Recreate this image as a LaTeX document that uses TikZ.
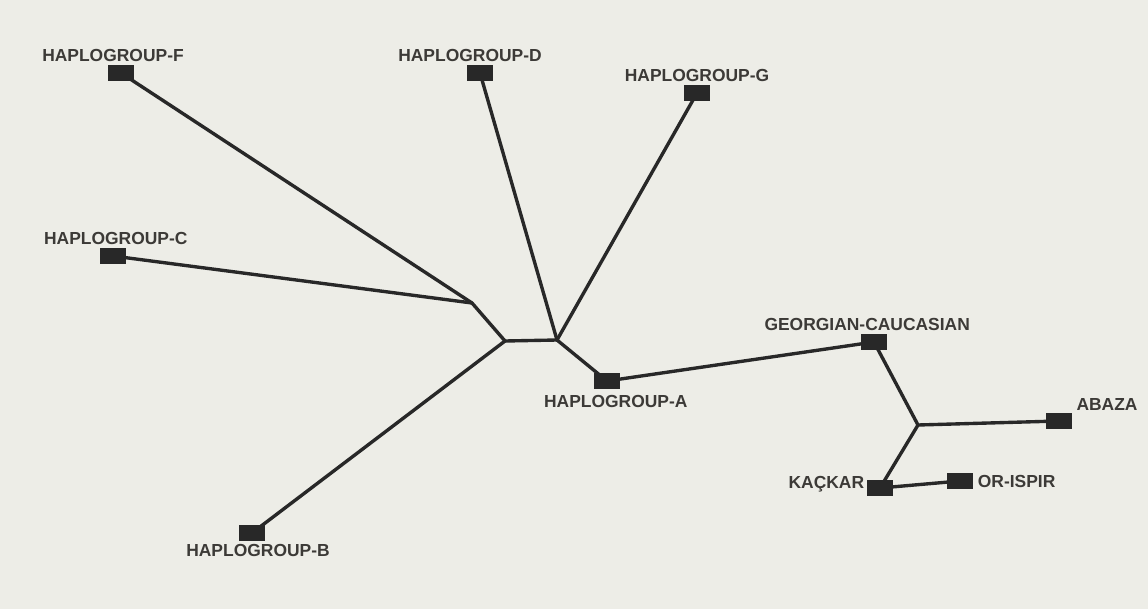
\documentclass[tikz,border=0pt]{standalone}
\usepackage{fontspec}
\setmainfont{Liberation Sans}
\usetikzlibrary{positioning}

\definecolor{screen}{RGB}{237,237,231}
\definecolor{ink}{RGB}{40,40,40}
\definecolor{labelink}{RGB}{60,58,55}

\begin{document}
\begin{tikzpicture}[
    x=0.025cm, y=-0.025cm,
    leaf/.style={rectangle, fill=ink, inner sep=0pt, minimum width=0.625cm, minimum height=0.4cm,
      label distance=4.5pt},
    every label/.style={font=\bfseries\fontsize{12.4}{14}\selectfont, text=labelink, inner sep=2pt},
    br/.style={draw=ink, line width=2.4pt, line cap=round, line join=round}
  ]
    % background
    \fill[screen] (0,0) rectangle (1148,609);

    % inner branch points
    \coordinate (j1) at (472,303);
    \coordinate (j2) at (505,341);
    \coordinate (j3) at (557,340);
    \coordinate (j4) at (918,425);

    % leaves
    \node[leaf, label={[xshift=-0.2cm]above:HAPLOGROUP-F}] (F) at (121,73) {};
    \node[leaf, label={[xshift=0.07cm]above:HAPLOGROUP-C}] (C) at (113,256) {};
    \node[leaf, label={[xshift=-0.25cm]above:HAPLOGROUP-D}] (D) at (480,73) {};
    \node[leaf, label={above:HAPLOGROUP-G}] (G) at (697,93) {};
    \node[leaf, label={[xshift=0.22cm, yshift=-0.07cm]below:HAPLOGROUP-A}] (A) at (607,381) {};
    \node[leaf, label={[xshift=0.15cm]below:HAPLOGROUP-B}] (B) at (252,533) {};
    \node[leaf, label={[xshift=-0.17cm]above:GEORGIAN-CAUCASIAN}] (GC) at (874,342) {};
    \node[leaf, label={[xshift=1.2cm, yshift=-0.03cm]above:ABAZA}] (AB) at (1059,421) {};
    \node[leaf, label={[yshift=0.1cm]left:KAÇKAR}] (K) at (880,488) {};
    \node[leaf, label={[xshift=0.05cm]right:OR-ISPIR}] (OI) at (960,481) {};

    % branches
    \draw[br] (F.center) -- (j1);
    \draw[br] (C.center) -- (j1);
    \draw[br] (j1) -- (j2);
    \draw[br] (B.center) -- (j2);
    \draw[br] (j2) -- (j3);
    \draw[br] (D.center) -- (j3);
    \draw[br] (G.center) -- (j3);
    \draw[br] (j3) -- (A.center);
    \draw[br] (A.center) -- (GC.center);
    \draw[br] (GC.center) -- (j4);
    \draw[br] (j4) -- (AB.center);
    \draw[br] (j4) -- (K.center);
    \draw[br] (K.center) -- (OI.center);

    % boxes on top of branch ends
    \foreach \n in {F,C,D,G,A,B,GC,AB,K,OI}
      \fill[ink] (\n.south west) rectangle (\n.north east);
  \end{tikzpicture}
\end{document}
